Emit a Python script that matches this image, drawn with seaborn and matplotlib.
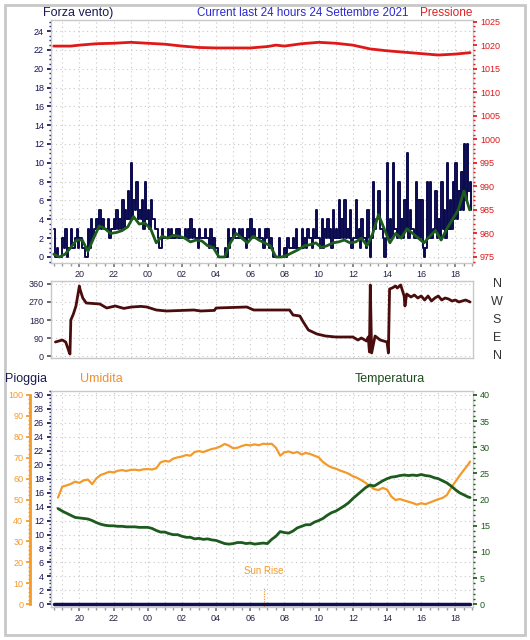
import numpy as np
import pandas as pd
import matplotlib
matplotlib.use("Agg")
import matplotlib.pyplot as plt
import seaborn as sns
from matplotlib.ticker import MultipleLocator, FixedLocator
from matplotlib.patches import Rectangle

sns.set_theme(style="white")
plt.rcParams['font.family'] = ['Liberation Sans', 'DejaVu Sans']

# ---------------- data (hours relative to midnight of 24 Sept) ----------------
tick_hours = [-4, -2, 0, 2, 4, 6, 8, 10, 12, 14, 16, 18]
tick_labels = ["20", "22", "00", "02", "04", "06", "08", "10", "12", "14", "16", "18"]

gust_start = -5.5
gust_step = 1 / 6
gust_values = [3, 1, 0, 2, 3, 1,
               3, 1, 3, 2, 1, 0,
               3, 4, 3, 4, 5, 4,
               3, 4, 3, 4, 5, 4,
               6, 5, 7, 10, 6, 8,
               5, 6, 8, 5, 6, 4,
               3, 1, 3, 2, 3, 3,
               2, 3, 3, 2, 3, 3,
               4, 3, 2, 3, 2, 3,
               2, 3, 2, 1, 0, 0,
               1, 3, 2, 3, 2, 3,
               3, 2, 3, 4, 3, 2,
               3, 2, 3, 3, 2, 0,
               0, 2, 0, 1, 2, 1,
               2, 3, 1, 3, 2, 3,
               2, 3, 5, 2, 4, 3,
               4, 3, 5, 3, 6, 4,
               6, 3, 5, 2, 6, 3,
               4, 2, 5, 0, 8, 4,
               7, 3, 0, 10, 4, 10,
               3, 8, 4, 6, 11, 5,
               3, 8, 6, 6, 0, 8,
               8, 3, 7, 4, 8, 5,
               10, 6, 8, 10, 7, 9,
               12, 12, 8]
lull_values = [0, 0, 0, 1, 0, 1,
               1, 2, 1, 2, 1, 0,
               1, 2, 3, 3, 3, 3,
               3, 2, 3, 3, 3, 3,
               3, 4, 4, 4, 5, 4,
               4, 3, 4, 3, 4, 3,
               2, 1, 2, 2, 2, 2,
               2, 2, 2, 2, 2, 2,
               2, 2, 1, 2, 2, 2,
               1, 1, 1, 0, 0, 0,
               0, 1, 2, 2, 2, 2,
               2, 1, 2, 2, 2, 2,
               2, 1, 2, 1, 1, 0,
               0, 0, 0, 0, 1, 1,
               1, 1, 1, 1, 1, 2,
               1, 2, 2, 1, 1, 2,
               2, 1, 2, 2, 2, 2,
               2, 2, 1, 2, 2, 1,
               2, 1, 2, 2, 3, 4,
               3, 2, 2, 2, 2, 3,
               2, 2, 2, 3, 2, 3,
               2, 2, 2, 1, 1, 2,
               2, 3, 2, 2, 3, 2,
               3, 3, 4, 4, 5, 5,
               6, 7, 5]

avg_start = -5.5
avg_step = 1 / 3
avg_values = [0.3, 0.0, 0.3, 1.0, 1.8, 1.8, 0.6, 2.0, 3.3, 3.0,
              2.5, 2.6, 2.8, 3.2, 4.3, 3.5, 3.6, 3.0, 1.5, 2.2,
              2.0, 2.3, 2.2, 2.0, 1.6, 1.8, 1.7, 1.2, 1.0, 0.0,
              0.0, 1.5, 2.5, 2.0, 1.5, 2.2, 1.8, 1.5, 1.2, 0.0,
              0.0, 0.2, 0.5, 0.8, 1.2, 1.3, 1.5, 1.0, 1.2, 1.5,
              1.6, 1.8, 1.5, 1.6, 2.0, 1.2, 2.5, 4.5, 3.0, 1.5,
              2.5, 2.0, 3.0, 2.5, 2.0, 1.5, 2.2, 2.8, 1.8, 3.0,
              4.0, 5.0, 7.0, 5.0]

press_hours = [-5.5, -4.5, -4.0, -3.0, -2.0, -1.0, 0.0, 1.0, 2.0, 3.0, 4.0, 5.0,
               6.0, 7.0, 7.5, 8.0, 9.0, 10.0, 11.0, 12.0, 13.0, 14.0, 15.0, 16.0,
               17.0, 18.0, 18.86]
press_values = [1019.8, 1019.8, 1020.0, 1020.3, 1020.4, 1020.6, 1020.4, 1020.2, 1019.8,
                1019.5, 1019.4, 1019.4, 1019.4, 1019.7, 1020.0, 1019.8, 1020.3, 1020.6,
                1020.4, 1020.0, 1019.2, 1018.8, 1018.5, 1018.2, 1017.9, 1018.1, 1018.4]

dir_hours = [-5.4, -5.0, -4.8, -4.6, -4.55, -4.5, -4.35, -4.2, -4.1, -4.0, -3.95, -3.8,
             -3.6, -2.8, -2.4, -1.9, -1.4, -0.95, -0.4, -0.05, 0.5, 1.1, 2.7, 3.1,
             3.9, 4.0, 5.8, 6.2, 8.3, 8.5, 8.9, 9.1, 9.4, 9.9, 10.4, 11.0, 12.0,
             12.3, 12.5, 12.8, 12.9, 12.97, 13.02, 13.1, 13.3, 13.6, 14.0, 14.08,
             14.15, 14.3, 14.5, 14.6, 14.8, 15.0, 15.05, 15.15, 15.4, 15.6, 15.8,
             16.0, 16.2, 16.4, 16.6, 16.8, 17.0, 17.2, 17.4, 17.6, 17.8, 18.0,
             18.2, 18.4, 18.6, 18.86]
dir_values = [70, 80, 70, 20, 10, 180, 210, 250, 300, 350, 330, 290,
              265, 260, 240, 250, 238, 245, 248, 245, 230, 225, 230, 225,
              228, 240, 245, 230, 230, 205, 200, 170, 130, 110, 100, 95, 95,
              80, 90, 75, 95, 20, 355, 15, 100, 80, 70, 15,
              335, 340, 350, 340, 355, 300, 250, 310, 295, 305, 290,
              300, 280, 300, 275, 290, 300, 280, 290, 285, 275, 280,
              270, 275, 280, 270]

hum_hours = [-5.25, -5.0, -4.75, -4.5, -4.25, -4.0, -3.75, -3.5, -3.25, -3.0, -2.75,
             -2.5, -2.25, -2.0, -1.75, -1.5, -1.25, -1.0, -0.75, -0.5, -0.25, 0.0,
             0.25, 0.5, 0.75, 1.0, 1.25, 1.5, 1.75, 2.0, 2.25, 2.5, 2.75, 3.0, 3.25,
             3.5, 3.75, 4.0, 4.25, 4.5, 4.75, 5.0, 5.25, 5.5, 5.75, 6.0, 6.25, 6.5,
             6.75, 7.0, 7.25, 7.5, 7.75, 8.0, 8.25, 8.5, 8.75, 9.0, 9.25, 9.5, 9.75,
             10.0, 10.25, 10.5, 10.75, 11.0, 11.25, 11.5, 11.75, 12.0, 12.25, 12.5,
             12.75, 13.0, 13.25, 13.5, 13.75, 14.0, 14.25, 14.5, 14.75, 15.0, 15.25,
             15.5, 15.75, 16.0, 16.25, 16.5, 16.75, 17.0, 17.25, 17.5, 17.75, 18.0,
             18.25, 18.5, 18.75, 18.86]
hum_values = [51.0, 56.2, 56.8, 57.5, 58.6, 58.0, 59.2, 59.6, 57.4, 60.2, 61.8,
              62.5, 63.3, 63.0, 63.8, 64.1, 63.7, 64.2, 64.3, 64.0, 64.5, 64.6,
              64.4, 65.0, 67.8, 68.5, 68.2, 69.6, 70.2, 70.6, 71.3, 71.0, 72.8, 73.2,
              72.7, 73.5, 74.2, 74.6, 75.4, 76.6, 75.8, 74.5, 74.8, 75.6, 76.2, 75.9,
              76.4, 76.0, 76.7, 76.5, 76.7, 74.8, 71.0, 72.6, 73.0, 72.2, 72.8, 71.6,
              72.3, 71.8, 71.0, 70.2, 68.0, 66.5, 65.4, 64.8, 63.9, 63.2, 62.4, 61.2,
              60.4, 59.3, 58.0, 56.4, 55.0, 54.6, 55.6, 54.8, 51.5, 49.8, 50.3, 49.6,
              49.0, 48.4, 47.6, 48.3, 47.8, 48.6, 49.4, 50.2, 50.8, 52.2, 55.6, 58.6,
              61.5, 64.2, 66.8, 68.2]

temp_hours = hum_hours
temp_values = [18.3, 17.8, 17.4, 17.0, 16.6, 16.5, 16.4, 16.3, 16.0, 15.6, 15.3,
               15.1, 15.0, 15.0, 14.9, 14.9, 14.8, 14.8, 14.8, 14.7, 14.7, 14.7,
               14.5, 14.1, 13.8, 13.8, 13.5, 13.3, 13.3, 13.0, 12.8, 12.8, 12.5, 12.6,
               12.4, 12.5, 12.3, 12.2, 11.9, 11.6, 11.5, 11.6, 11.8, 11.8, 11.6, 11.7,
               11.5, 11.6, 11.7, 11.6, 12.4, 13.0, 13.9, 13.7, 13.6, 14.0, 14.6, 14.9,
               15.2, 15.2, 15.7, 16.0, 16.4, 17.0, 17.5, 17.8, 18.3, 18.8, 19.4, 20.2,
               20.9, 21.6, 22.3, 22.8, 22.6, 23.1, 23.6, 24.0, 24.3, 24.4, 24.6, 24.7,
               24.6, 24.7, 24.6, 24.8, 24.6, 24.5, 24.2, 24.0, 23.6, 23.2, 22.6, 21.9,
               21.3, 20.9, 20.5, 20.4]

rain_hours = [-5.5, 18.86]
rain_values = [0.0, 0.0]

sunrise_hour = 6.8

# ---------------- frames ----------------
gust_t = gust_start + np.arange(len(gust_values)) * gust_step
wind_df = pd.DataFrame({
    "t": np.ravel(np.column_stack([gust_t, gust_t + gust_step / 2])),
    "v": np.ravel(np.column_stack([gust_values, lull_values])),
})
avg_df = pd.DataFrame({"t": avg_start + np.arange(len(avg_values)) * avg_step,
                       "v": avg_values})
press_df = pd.DataFrame({"t": press_hours, "v": press_values})
dir_df = pd.DataFrame({"t": dir_hours, "v": dir_values})
hum_df = pd.DataFrame({"t": hum_hours, "v": hum_values})
temp_df = pd.DataFrame({"t": temp_hours, "v": temp_values})
rain_df = pd.DataFrame({"t": rain_hours, "v": rain_values})

W, H = 530, 640
fig = plt.figure(figsize=(W / 100, H / 100), dpi=100)
fig.patch.set_facecolor("white")


def box(l, t, r, b):
    return [l / W, 1 - b / H, (r - l) / W, (b - t) / H]


XL = (-5.66, 19.03)
NAVY = "#14145a"
GRID = dict(color="#c8c8c8", linestyle=(0, (1, 3)), linewidth=0.8)
TICKFS = 6.5


def style_time(ax, labels=True):
    ax.set_xlim(*XL)
    ax.xaxis.set_major_locator(FixedLocator(tick_hours))
    ax.xaxis.set_minor_locator(MultipleLocator(0.5))
    if labels:
        ax.set_xticklabels(tick_labels)
    else:
        ax.set_xticklabels([])
    ax.tick_params(axis="x", which="major", length=3, color="#777777",
                   labelsize=TICKFS, labelcolor="#222244", pad=2, bottom=True)
    ax.tick_params(axis="x", which="minor", length=2, color="#999999", bottom=True)
    for h in range(-5, 19):
        ax.axvline(h, zorder=0, **GRID)
    for s in ax.spines.values():
        s.set_color("#c8c8c8")
        s.set_linewidth(1)
    ax.set_xlabel("")
    ax.set_ylabel("")


# ---------------- top: wind speed + pressure ----------------
ax1 = fig.add_axes(box(51, 20, 473, 263))
ax1.set_facecolor("white")
sns.lineplot(data=wind_df, x="t", y="v", ax=ax1, color="#0a0a4e", lw=1.4,
             drawstyle="steps-post", estimator=None, sort=False)
sns.lineplot(data=avg_df, x="t", y="v", ax=ax1, color="#1c5c1c", lw=2.0,
             estimator=None, sort=False)
ax1.set_ylim(-0.64, 25.17)
ax1.yaxis.set_major_locator(FixedLocator(list(range(0, 25, 2))))
ax1.yaxis.set_minor_locator(MultipleLocator(0.5))
ax1.tick_params(axis="y", which="major", length=3, color=NAVY, labelsize=TICKFS,
                labelcolor=NAVY, pad=2, left=True)
ax1.tick_params(axis="y", which="minor", length=1.5, color=NAVY, left=True)
for v in range(0, 25, 2):
    ax1.axhline(v, zorder=0, **GRID)
style_time(ax1)

ax1r = ax1.twinx()
sns.lineplot(data=press_df, x="t", y="v", ax=ax1r, color="#e01818", lw=2.0,
             estimator=None, sort=False)
ax1r.set_ylim(975 + 2 * -0.64, 975 + 2 * 25.17)
ax1r.yaxis.set_major_locator(FixedLocator(list(range(975, 1026, 5))))
ax1r.yaxis.set_minor_locator(MultipleLocator(1))
ax1r.tick_params(axis="y", which="major", length=3, color="#e01818", labelsize=TICKFS,
                 labelcolor="#e01818", pad=2, right=True)
ax1r.tick_params(axis="y", which="minor", length=1.5, color="#e01818", right=True)
ax1r.set_ylabel("")
ax1r.grid(False)
for s in ax1r.spines.values():
    s.set_visible(False)

# ---------------- middle: wind direction ----------------
ax2 = fig.add_axes(box(51, 281, 473, 358))
sns.lineplot(data=dir_df, x="t", y="v", ax=ax2, color="#4a0c0c", lw=2.0,
             estimator=None, sort=False)
ax2.set_ylim(-10, 375)
ax2.yaxis.set_major_locator(FixedLocator([0, 90, 180, 270, 360]))
ax2.tick_params(axis="y", which="major", length=3, color="#555555", labelsize=TICKFS,
                labelcolor="#222244", pad=2, left=True)
for v in [0, 90, 180, 270, 360]:
    ax2.axhline(v, zorder=0, **GRID)
style_time(ax2, labels=False)
ax2.tick_params(axis="x", which="both", length=0)
for lab, v in zip(["N", "W", "S", "E", "N"], [360, 270, 180, 90, 0]):
    ax2.text(1.057, v, lab, transform=ax2.get_yaxis_transform(), ha="center",
             va="center", fontsize=9, color="#333333")

# ---------------- bottom: rain, humidity, temperature ----------------
ax3 = fig.add_axes(box(51, 391, 473, 607))
RL = (-0.39, 30.57)
ax3.set_ylim(*RL)
ax3.yaxis.set_major_locator(FixedLocator(list(range(0, 31, 2))))
ax3.yaxis.set_minor_locator(MultipleLocator(0.5))
ax3.tick_params(axis="y", which="major", length=3, color=NAVY, labelsize=TICKFS,
                labelcolor=NAVY, pad=2, left=True)
ax3.tick_params(axis="y", which="minor", length=1.5, color=NAVY, left=True)
for v in range(2, 31, 2):
    ax3.axhline(v, zorder=0, **GRID)
style_time(ax3)

ax3h = ax3.twinx()
sns.lineplot(data=hum_df, x="t", y="v", ax=ax3h, color="#f39a2b", lw=1.6,
             estimator=None, sort=False)
ax3h.set_ylim(RL[0] * 100 / 30, RL[1] * 100 / 30)
ax3h.yaxis.set_ticks_position("left")
ax3h.yaxis.set_label_position("left")
ax3h.spines["left"].set_position(("outward", 15))
ax3h.spines["left"].set_visible(True)
ax3h.spines["left"].set_color("#f39a2b")
ax3h.spines["left"].set_linewidth(2)
ax3h.spines["left"].set_bounds(0, 100)
for k in ["right", "top", "bottom"]:
    ax3h.spines[k].set_visible(False)
ax3h.yaxis.set_major_locator(FixedLocator(list(range(0, 101, 10))))
ax3h.yaxis.set_minor_locator(MultipleLocator(2))
ax3h.tick_params(axis="y", which="major", length=3, color="#f39a2b", labelsize=TICKFS,
                 labelcolor="#f39a2b", pad=2, left=True, right=False)
ax3h.tick_params(axis="y", which="minor", length=1.5, color="#f39a2b", left=True,
                 right=False)
ax3h.set_ylabel("")
ax3h.grid(False)

ax3t = ax3.twinx()
sns.lineplot(data=temp_df, x="t", y="v", ax=ax3t, color="#1d5a1d", lw=2.0,
             estimator=None, sort=False)
sns.lineplot(data=rain_df, x="t", y=[v * 40 / 30 for v in rain_values], ax=ax3t,
             color="#101050", lw=2.5, estimator=None, sort=False)
ax3t.set_ylim(RL[0] * 40 / 30, RL[1] * 40 / 30)
ax3t.yaxis.set_major_locator(FixedLocator(list(range(0, 41, 5))))
ax3t.yaxis.set_minor_locator(MultipleLocator(1))
ax3t.tick_params(axis="y", which="major", length=3, color="#1d5a1d", labelsize=TICKFS,
                 labelcolor="#1d5a1d", pad=2, right=True)
ax3t.tick_params(axis="y", which="minor", length=1.5, color="#1d5a1d", right=True)
ax3t.set_ylabel("")
ax3t.grid(False)
for s in ax3t.spines.values():
    s.set_visible(False)

ax3.axvline(sunrise_hour, ymin=0.0, ymax=(2.3 - RL[0]) / (RL[1] - RL[0]),
            color="#f39a2b", lw=0.9, linestyle=(0, (1, 1)), zorder=3)
ax3.text(sunrise_hour, 4.8, "Sun Rise", ha="center", va="center", fontsize=7,
         color="#f39a2b")

# ---------------- texts ----------------
def ftext(x, y, s, color, size=9):
    fig.text(x / W, 1 - y / H, s, color=color, fontsize=size, ha="left", va="center")


ftext(43, 13, "Forza vento)", "#1a1a50")
ftext(197, 13, "Current last 24 hours 24 Settembre 2021", "#2a2ad0", 8.4)
ftext(420, 13, "Pressione", "#e02020", 8.5)
ftext(5, 379, "Pioggia", "#1a1a50")
ftext(80, 379, "Umidita", "#f09030")
ftext(355, 379, "Temperatura", "#1d4d1d")

fig.patches.append(Rectangle((5 / W, 5 / H), 520 / W, 630 / H, transform=fig.transFigure,
                             fill=False, edgecolor="#c8c8c8", linewidth=2))

fig.savefig("out.png", dpi=100, facecolor="white")
